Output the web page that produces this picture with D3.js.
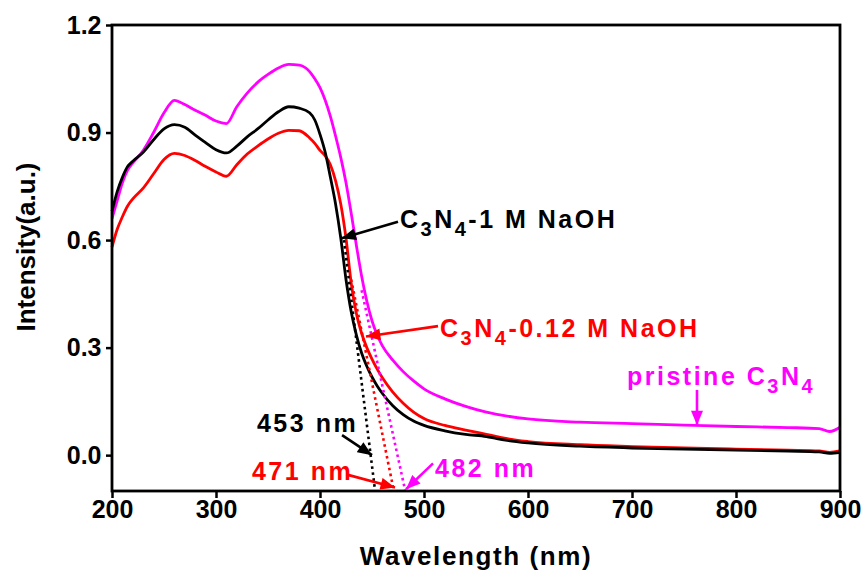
<!DOCTYPE html>
<html>
<head>
<meta charset="utf-8">
<script src="https://cdn.jsdelivr.net/npm/d3@7"></script>
<style>
  body { margin: 0; background: #fff; }
  svg { display: block; font-family: "Liberation Sans", Arial, sans-serif; font-weight: bold; }
</style>
</head>
<body id="body">
<svg></svg>
<script>
// wavelengths (nm)
var waves = [200, 205, 210, 215, 220, 230, 240, 250, 260, 270, 280, 290, 300, 310, 320, 330, 340, 350,
  360, 370, 380, 390, 395, 400, 405, 410, 415, 420, 425, 430, 435, 440, 445, 450, 455, 460, 470, 480,
  490, 500, 520, 540, 560, 570, 580, 600, 650, 700, 750, 800, 850, 880, 890, 900];

var pristine = [0.66, 0.71, 0.76, 0.795, 0.815, 0.85, 0.90, 0.955, 0.99, 0.978, 0.962, 0.948, 0.932, 0.925,
  0.972, 1.01, 1.04, 1.062, 1.08, 1.09, 1.088, 1.07, 1.05, 1.025, 0.99, 0.945, 0.89, 0.83, 0.76, 0.675,
  0.585, 0.50, 0.43, 0.375, 0.335, 0.305, 0.265, 0.233, 0.207, 0.185, 0.157, 0.136, 0.12, 0.114, 0.109, 0.101,
  0.092, 0.088, 0.084, 0.080, 0.077, 0.074, 0.066, 0.078];

var naoh012 = [0.58, 0.63, 0.665, 0.695, 0.715, 0.745, 0.785, 0.825, 0.842, 0.836, 0.822, 0.805, 0.79,
  0.778, 0.81, 0.84, 0.862, 0.882, 0.898, 0.906, 0.905, 0.885, 0.87, 0.85, 0.835, 0.81, 0.765, 0.70,
  0.605, 0.48, 0.395, 0.34, 0.30, 0.268, 0.24, 0.216, 0.176, 0.145, 0.12, 0.102, 0.083, 0.07, 0.058, 0.052,
  0.046, 0.038, 0.029, 0.024, 0.02, 0.017, 0.014, 0.012, 0.008, 0.012];

var naoh1 = [0.68, 0.735, 0.775, 0.805, 0.82, 0.845, 0.88, 0.91, 0.922, 0.915, 0.893, 0.872, 0.852, 0.843,
  0.862, 0.888, 0.91, 0.935, 0.958, 0.972, 0.968, 0.955, 0.935, 0.895, 0.845, 0.775, 0.70, 0.605, 0.49,
  0.40, 0.335, 0.285, 0.248, 0.218, 0.193, 0.172, 0.138, 0.113, 0.095, 0.083, 0.068, 0.058, 0.052, 0.046,
  0.041, 0.034, 0.025, 0.02, 0.017, 0.014, 0.011, 0.009, 0.005, 0.008];

// tangent lines used for the band edge [wavelength, intensity]
var tangent1 = [[423, 0.60], [453, -0.1]];
var tangent012 = [[430, 0.49], [471, -0.1]];
var tangentPristine = [[440, 0.46], [482, -0.1]];

var xTicks = [200, 300, 400, 500, 600, 700, 800, 900];
var yTicks = [0.0, 0.3, 0.6, 0.9, 1.2];

var width = 865, height = 576;
var margin = {top: 25, right: 25, bottom: 85, left: 112};

var svg = d3.select("svg")
  .attr("width", width)
  .attr("height", height);

var x = d3.scaleLinear().domain([200, 900]).range([margin.left, width - margin.right]);
var y = d3.scaleLinear().domain([-0.1, 1.2]).range([height - margin.bottom, margin.top]);

// arrow head
svg.append("defs").selectAll("marker")
  .data([["black", "#000"], ["red", "#ff0000"], ["mag", "#ff00ff"]])
  .enter().append("marker")
  .attr("id", function (d) { return "arr-" + d[0]; })
  .attr("viewBox", "0 -5 12 10")
  .attr("refX", 12)
  .attr("refY", 0)
  .attr("markerUnits", "userSpaceOnUse")
  .attr("markerWidth", 15)
  .attr("markerHeight", 12)
  .attr("orient", "auto")
  .append("path")
  .attr("d", "M0,-5L12,0L0,5Z")
  .attr("fill", function (d) { return d[1]; });

// curves
var line = d3.line()
  .x(function (d) { return x(d[0]); })
  .y(function (d) { return y(d[1]); })
  .curve(d3.curveMonotoneX);

var series = [
  {name: "pristine", values: pristine, color: "#ff00ff"},
  {name: "0.12M", values: naoh012, color: "#ff0000"},
  {name: "1M", values: naoh1, color: "#000000"}
];

svg.append("g").selectAll("path")
  .data(series)
  .enter().append("path")
  .attr("d", function (s) { return line(waves.map(function (w, i) { return [w, s.values[i]]; })); })
  .attr("fill", "none")
  .attr("stroke", function (s) { return s.color; })
  .attr("stroke-width", 2.8)
  .attr("stroke-linejoin", "round");

// dotted tangents
var tangents = [
  {pts: tangent1, color: "#000"},
  {pts: tangent012, color: "#ff0000"},
  {pts: tangentPristine, color: "#ff00ff"}
];
svg.append("g").selectAll("path")
  .data(tangents)
  .enter().append("path")
  .attr("d", function (t) { return d3.line().x(function (d) { return x(d[0]); }).y(function (d) { return y(d[1]); })(t.pts); })
  .attr("fill", "none")
  .attr("stroke", function (t) { return t.color; })
  .attr("stroke-width", 2.6)
  .attr("stroke-dasharray", "2.6,3.4");

// axes
var xAxis = svg.append("g")
  .attr("transform", "translate(0," + y(-0.1) + ")")
  .call(d3.axisBottom(x).tickValues(xTicks).tickSize(7).tickPadding(2).tickFormat(d3.format("d")));
var yAxis = svg.append("g")
  .attr("transform", "translate(" + x(200) + ",0)")
  .call(d3.axisLeft(y).tickValues(yTicks).tickSize(6).tickPadding(4.5).tickFormat(d3.format(".1f")));

[xAxis, yAxis].forEach(function (g) {
  g.select(".domain").remove();
  g.selectAll(".tick line").attr("stroke", "#000").attr("stroke-width", 2.5);
  g.selectAll(".tick text")
    .attr("fill", "#000")
    .style("font-family", "'Liberation Sans', Arial, sans-serif")
    .style("font-weight", "bold")
    .style("font-size", "25px");
});

// frame
svg.append("rect")
  .attr("x", x(200))
  .attr("y", y(1.2))
  .attr("width", x(900) - x(200))
  .attr("height", y(-0.1) - y(1.2))
  .attr("fill", "none")
  .attr("stroke", "#000")
  .attr("stroke-width", 2.8);

// axis titles
svg.append("text")
  .attr("x", (x(200) + x(900)) / 2)
  .attr("y", 565)
  .attr("text-anchor", "middle")
  .style("font-size", "26px")
  .style("letter-spacing", "1.6px")
  .text("Wavelength (nm)");

svg.append("text")
  .attr("transform", "translate(35," + 247 + ") rotate(-90)")
  .attr("text-anchor", "middle")
  .style("font-size", "26px")
  .text("Intensity(a.u.)");

// labels with subscripts, positioned in data units
function label(parts, wl, val, color) {
  var t = svg.append("text")
    .attr("x", x(wl))
    .attr("y", y(val))
    .attr("fill", color)
    .style("font-size", "25px")
    .style("letter-spacing", "2.5px");
  var down = false;
  parts.forEach(function (p) {
    var sub = p.charAt(0) === "_";
    var ts = t.append("tspan").text(sub ? p.slice(1) : p);
    if (sub && !down) { ts.attr("dy", 8).style("font-size", "20px"); down = true; }
    else if (sub) { ts.style("font-size", "20px"); }
    else if (down) { ts.attr("dy", -8); down = false; }
  });
}

function arrow(from, to, color, id) {
  svg.append("line")
    .attr("x1", x(from[0])).attr("y1", y(from[1]))
    .attr("x2", x(to[0])).attr("y2", y(to[1]))
    .attr("stroke", color)
    .attr("stroke-width", 2.6)
    .attr("marker-end", "url(#arr-" + id + ")");
}

label(["C", "_3", "N", "_4", "-1 M NaOH"], 476.9, 0.634, "#000");
arrow([475, 0.651], [420.8, 0.605], "#000", "black");

label(["C", "_3", "N", "_4", "-0.12 M NaOH"], 515.4, 0.330, "#ff0000");
arrow([513.5, 0.360], [444.2, 0.331], "#ff0000", "red");

label(["pristine C", "_3", "N", "_4"], 695.2, 0.196, "#ff00ff");
arrow([762.5, 0.182], [762.5, 0.084], "#ff00ff", "mag");

label(["453 nm"], 339.4, 0.065, "#000");
arrow([421.2, 0.056], [450, 0.0], "#000", "black");

label(["471 nm"], 334.6, -0.069, "#ff0000");
arrow([426.9, -0.055], [472.1, -0.090], "#ff0000", "red");

label(["482 nm"], 510.6, -0.061, "#ff00ff");
arrow([508.7, -0.023], [482.7, -0.095], "#ff00ff", "mag");
</script>
</body>
</html>
